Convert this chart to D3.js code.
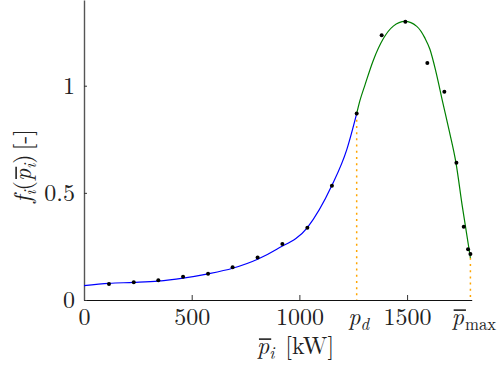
<!DOCTYPE html>
<html>
<head>
<meta charset="utf-8">
<script src="https://cdn.jsdelivr.net/npm/d3@7"></script>
<style>
  body { margin: 0; background: #fff; }
  svg text { font-family: "Latin Modern Roman", "CMU Serif", "Liberation Serif", serif; fill: #222; }
</style>
</head>
<body>
<div id="chart"></div>
<script>
// measured samples (black dots)
const sampleP = [116, 231, 345, 460, 576, 690, 806, 921, 1037, 1151, 1266, 1382, 1492, 1594, 1673, 1729, 1763, 1783, 1794];
const sampleF = [0.075, 0.083, 0.092, 0.109, 0.123, 0.153, 0.198, 0.261, 0.337, 0.533, 0.870, 1.235, 1.299, 1.106, 0.972, 0.640, 0.342, 0.237, 0.215];

// fitted curve below p_d (blue)
const lowP = [0, 116, 231, 345, 460, 576, 690, 806, 895, 1037, 1150, 1220, 1266];
const lowF = [0.067, 0.078, 0.082, 0.088, 0.102, 0.122, 0.148, 0.190, 0.237, 0.338, 0.533, 0.702, 0.870];

// fitted curve above p_d (green)
const highP = [1266, 1281, 1305, 1343, 1390, 1436, 1490, 1545, 1583, 1606, 1634, 1665, 1696, 1727, 1757, 1794];
const highF = [0.870, 0.930, 1.005, 1.118, 1.220, 1.278, 1.300, 1.277, 1.222, 1.170, 1.065, 0.925, 0.788, 0.640, 0.433, 0.197];

const pD = 1266, fD = 0.870;
const pMax = 1794, fMax = 0.197;

const xTicks = [0, 500, 1000, 1500];
const yTicks = [0, 0.5, 1];

const width = 502, height = 376;
const margin = {top: 0, left: 84, bottom: 76, right: 30};

const svg = d3.select('#chart')
  .append('svg')
  .attr('width', width)
  .attr('height', height);

const x = d3.scaleLinear().domain([0, 1800]).range([margin.left, 471.7]);
const y = d3.scaleLinear().domain([0, 1.4]).range([height - margin.bottom, margin.top]);

const fs = 24;

// axes
const xAxis = svg.append('g')
  .attr('transform', `translate(0,${y(0)})`)
  .call(d3.axisBottom(x).tickValues(xTicks).tickFormat(d3.format('d'))
    .tickSizeInner(-5).tickSizeOuter(0).tickPadding(8));

const yAxis = svg.append('g')
  .attr('transform', `translate(${x(0)},0)`)
  .call(d3.axisLeft(y).tickValues(yTicks).tickFormat(d => d === 0.5 ? '0.5' : d3.format('d')(d))
    .tickSizeInner(-3).tickSizeOuter(0).tickPadding(9));

[xAxis, yAxis].forEach(a => {
  a.selectAll('text').style('font-size', fs + 'px').attr('fill', '#222');
  a.select('.domain').attr('stroke', '#111').attr('stroke-width', 1.1);
  a.selectAll('.tick line').attr('stroke', '#333');
});
yAxis.select('.domain').attr('stroke', '#555').attr('stroke-width', 1.4);

// math-ish label: parts {t, it, sub, bar, dx}; centred on px, baseline py
function mathText(g, parts, px, py, size) {
  const t = g.append('text')
    .attr('x', 0).attr('y', py)
    .attr('text-anchor', 'start')
    .style('font-size', size + 'px');
  let shifted = false;
  const bars = [];
  parts.forEach(p => {
    const ts = t.append('tspan').text(p.t);
    if (p.it) ts.style('font-style', 'italic');
    if (p.sub) {
      ts.style('font-size', (size * 0.7) + 'px');
      if (!shifted) { ts.attr('dy', size * 0.22); shifted = true; }
    } else if (shifted) { ts.attr('dy', -size * 0.22); shifted = false; }
    if (p.dx) ts.attr('dx', p.dx);
    if (p.bar) bars.push(ts.node());
  });
  const w = t.node().getComputedTextLength();
  t.attr('x', px - w / 2);
  bars.forEach(n => {
    const b = n.getExtentOfChar(0);
    g.append('line')
      .attr('x1', b.x + 2).attr('x2', b.x + b.width + 2)
      .attr('y1', py - size * 0.62).attr('y2', py - size * 0.62)
      .attr('stroke', '#222').attr('stroke-width', 1.6);
  });
  return t;
}

// dotted markers at p_d and p_max
[[pD, fD], [pMax, fMax]].forEach(([p, f]) => {
  svg.append('line')
    .attr('x1', x(p)).attr('x2', x(p))
    .attr('y1', y(f)).attr('y2', y(0))
    .attr('stroke', '#FFA500')
    .attr('stroke-width', 1.5)
    .attr('stroke-dasharray', '2,4.2');
});

const line = d3.line().x(d => x(d[0])).y(d => y(d[1])).curve(d3.curveMonotoneX);

svg.append('path')
  .datum(lowP.map((p, i) => [p, lowF[i]]))
  .attr('d', line)
  .attr('fill', 'none')
  .attr('stroke', '#0000FF')
  .attr('stroke-width', 1.2);

svg.append('path')
  .datum(highP.map((p, i) => [p, highF[i]]))
  .attr('d', line)
  .attr('fill', 'none')
  .attr('stroke', '#008000')
  .attr('stroke-width', 1.2);

svg.selectAll('circle.sample')
  .data(sampleP.map((p, i) => [p, sampleF[i]]))
  .enter()
  .append('circle')
  .attr('class', 'sample')
  .attr('cx', d => x(d[0]))
  .attr('cy', d => y(d[1]))
  .attr('r', 2)
  .attr('fill', '#000');

// special tick labels
const tickBase = y(0) + 25;
mathText(svg, [{t: 'p', it: true}, {t: 'd', it: true, sub: true}], x(pD) + 2, tickBase, fs);
mathText(svg, [{t: 'p', it: true, bar: true}, {t: 'max', sub: true, dx: 1}], x(pMax) + 3, tickBase, fs);

// x label
mathText(svg, [{t: 'p', it: true, bar: true}, {t: 'i', it: true, sub: true}, {t: '[kW]', dx: 11}], 290, 354, fs);

// y label
const yl = svg.append('g').attr('transform', 'translate(31,168) rotate(-90)');
mathText(yl, [
  {t: 'f', it: true}, {t: 'i', it: true, sub: true},
  {t: '('}, {t: 'p', it: true, bar: true}, {t: 'i', it: true, sub: true},
  {t: ')'}, {t: '[-]', dx: 4}
], 0, 0, fs);
</script>
</body>
</html>
